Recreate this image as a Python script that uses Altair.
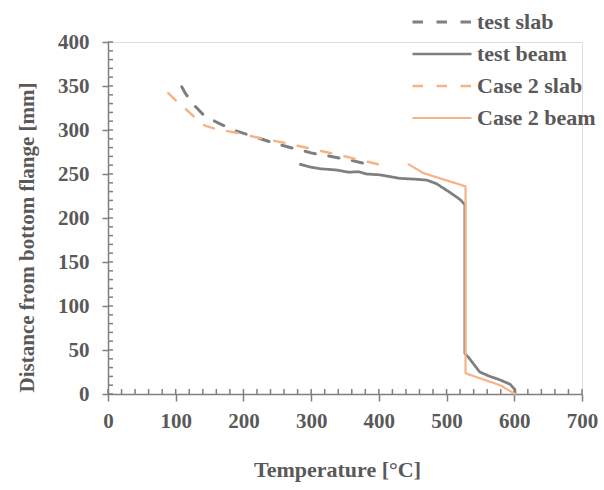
import altair as alt
import pandas as pd

# ---- data ----
series_names = ["test slab", "test beam", "Case 2 slab", "Case 2 beam"]

test_slab_T = [109, 114, 125, 140, 160, 185, 205, 250, 300, 350, 385]
test_slab_D = [349, 342, 330, 318, 309, 300, 295, 284, 274, 267, 261]

test_beam_T = [284, 298, 313, 338, 355, 370, 382, 402, 431, 456, 471, 485, 505,
               520, 526, 527, 527, 532, 549, 564, 579, 594, 601, 601]
test_beam_D = [261, 258, 256, 254.5, 252, 252.6, 250, 249, 245, 244, 243, 239, 229,
               221, 216, 216, 46, 42, 25, 20, 16, 11, 5, 0]

case2_slab_T = [89, 102, 116, 130, 143, 160, 195, 229, 264, 298, 333, 367, 404]
case2_slab_D = [342, 332, 323, 313, 305, 301, 296, 290, 285, 279, 273, 267, 260]

case2_beam_T = [444, 466, 528, 528, 579, 601]
case2_beam_D = [261, 251, 236, 23.5, 10, 0]

x_ticks = [0, 100, 200, 300, 400, 500, 600, 700]
y_ticks = [0, 50, 100, 150, 200, 250, 300, 350, 400]
x_minor = list(range(0, 701, 20))
y_minor = list(range(0, 401, 10))

rows = []
for name, T, D in [("test slab", test_slab_T, test_slab_D),
                   ("test beam", test_beam_T, test_beam_D),
                   ("Case 2 slab", case2_slab_T, case2_slab_D),
                   ("Case 2 beam", case2_beam_T, case2_beam_D)]:
    for i, (t, d) in enumerate(zip(T, D)):
        rows.append({"series": name, "T": t, "D": d, "idx": i})
df = pd.DataFrame(rows)

GRAY = "#7f7f7f"
ORANGE = "#f6b386"
TXT = "#595959"
FONT = "Liberation Serif"

W, H = 474, 352

xscale = alt.Scale(domain=[0, 700], nice=False, zero=False)
yscale = alt.Scale(domain=[0, 400], nice=False, zero=False)

leg = alt.Legend(title=None, orient="none", legendX=303, legendY=-31,
                 padding=0, symbolType="stroke", symbolSize=3481,
                 labelFont=FONT, labelFontSize=22,
                 labelFontWeight="bold", labelColor=TXT, rowPadding=10,
                 clipHeight=22, labelOffset=4)

enc = dict(
    x=alt.X("T:Q", scale=xscale,
            axis=alt.Axis(values=x_ticks, title="Temperature [°C]", grid=False,
                          domainColor=GRAY, domainWidth=1.5, tickColor=GRAY,
                          tickWidth=1.5, tickSize=7, labelFont=FONT,
                          labelFontSize=21, labelFontWeight="bold",
                          labelColor=TXT, titleFont=FONT, titleFontSize=22,
                          titleFontWeight="bold", titleColor=TXT,
                          labelFlush=False,
                          labelPadding=9, titlePadding=28, titleX=229)),
    y=alt.Y("D:Q", scale=yscale,
            axis=alt.Axis(values=y_ticks, title="Distance from bottom flange [mm]",
                          grid=False, domainColor=GRAY, domainWidth=1.5,
                          tickColor=GRAY, tickWidth=1.5, tickSize=6,
                          labelFont=FONT, labelFontSize=21,
                          labelFontWeight="bold", labelColor=TXT,
                          titleFont=FONT, titleFontSize=21,
                          titleFontWeight="bold", titleColor=TXT,
                          labelFlush=False,
                          labelPadding=13, titlePadding=20, titleY=195)),
    color=alt.Color("series:N",
                    scale=alt.Scale(domain=series_names,
                                    range=[GRAY, GRAY, ORANGE, ORANGE]),
                    legend=leg),
    strokeDash=alt.StrokeDash("series:N",
                              scale=alt.Scale(domain=series_names,
                                              range=[[10.5, 13.5], [1, 0],
                                                     [10.5, 13.5], [1, 0]]),
                              legend=leg),
    strokeWidth=alt.StrokeWidth("series:N",
                                scale=alt.Scale(domain=series_names,
                                                range=[3, 2.2, 3, 2.2]),
                                legend=leg),
    order="idx:Q",
)

base = alt.Chart(df).mark_line(strokeCap="round", strokeJoin="round")
test_lines = base.transform_filter(
    alt.FieldOneOfPredicate(field="series", oneOf=["test slab", "test beam"])
).encode(**enc)
case_lines = base.transform_filter(
    alt.FieldOneOfPredicate(field="series", oneOf=["Case 2 slab", "Case 2 beam"])
).encode(**enc)

xm = alt.Chart(pd.DataFrame({"v": x_minor})).mark_rule(color=GRAY, strokeWidth=1.5).encode(
    x=alt.X("v:Q", scale=xscale), y=alt.value(H), y2=alt.value(H - 5))
ym = alt.Chart(pd.DataFrame({"v": y_minor})).mark_rule(color=GRAY, strokeWidth=1.5).encode(
    y=alt.Y("v:Q", scale=yscale), x=alt.value(0), x2=alt.value(5))

chart = alt.layer(xm, ym, test_lines, case_lines).properties(
    width=W, height=H,
    autosize=alt.AutoSizeParams(type="none"),
    padding={"left": 108, "top": 42, "right": 22, "bottom": 96},
).configure_view(stroke=None).configure(background="white")

chart.save("out.html", embed_options={"renderer": "svg", "actions": False})
